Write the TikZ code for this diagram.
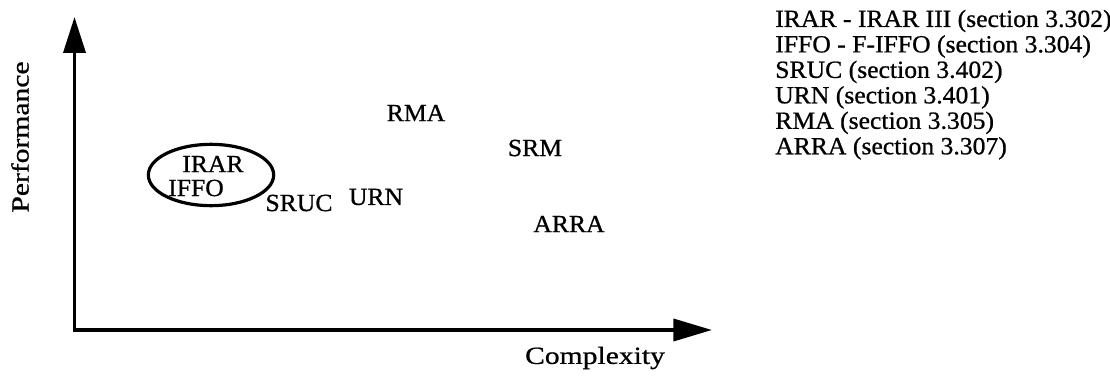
\documentclass[tikz,border=0pt]{standalone}
\usepackage{fontspec}
\setmainfont[FakeStretch=1.04, FakeBold=0.8]{Liberation Serif}
\newfontfamily\axisfont[FakeStretch=1.2, FakeBold=0.8]{Liberation Serif}
\usetikzlibrary{positioning, arrows.meta, shapes.geometric}
\tikzset{
    every node/.style={font=\fontsize{18.5}{19}\selectfont, inner sep=0pt},
    scheme/.style={anchor=center},
    axislabel/.style={font=\axisfont\fontsize{18.5}{19}\selectfont},
    cluster/.style={draw, ellipse, line width=2.4pt, minimum width=94pt, minimum height=46pt},
    legend/.style={anchor=west},
    axis/.style={{Triangle[length=27pt, width=16.5pt]}-{Triangle[length=29pt, width=16.5pt]}, line width=2.8pt},
}

\begin{document}
\begin{tikzpicture}[x=0.75pt, y=-0.75pt, node distance=19.1pt]
  \useasboundingbox (0,0) rectangle (1110,385);
  % Axes
  \coordinate (origin) at (74.5,330);
  \coordinate (ytip) at (74.5,17);
  \coordinate (xtip) at (712,330);
  \draw[axis] (ytip) -- (origin) -- (xtip);
  \node[axislabel, rotate=90] (perf) at (20,137) {Performance};
  \node[axislabel] (compl) at (595,358) {Complexity};
  % Schemes
  \node[cluster] (grp) at (211,175) {};
  \node[scheme] (irar) at (213,164) {IRAR};
  \node[scheme] (iffo) at (196,188) {IFFO};
  \node[scheme] (sruc) at (299,203) {SRUC};
  \node[scheme] (urn) at (376,197) {URN};
  \node[scheme] (rma) at (416,113) {RMA};
  \node[scheme] (srm) at (535,148) {SRM};
  \node[scheme] (arra) at (569,224) {ARRA};
  % Key
  \node[legend] (k1) at (775,21) {IRAR - IRAR III (section 3.302)};
  \node[legend, below=of k1.west, anchor=west] (k2) {IFFO - F-IFFO (section 3.304)};
  \node[legend, below=of k2.west, anchor=west] (k3) {SRUC (section 3.402)};
  \node[legend, below=of k3.west, anchor=west] (k4) {URN (section 3.401)};
  \node[legend, below=of k4.west, anchor=west] (k5) {RMA (section 3.305)};
  \node[legend, below=of k5.west, anchor=west] (k6) {ARRA (section 3.307)};
\end{tikzpicture}
\end{document}
